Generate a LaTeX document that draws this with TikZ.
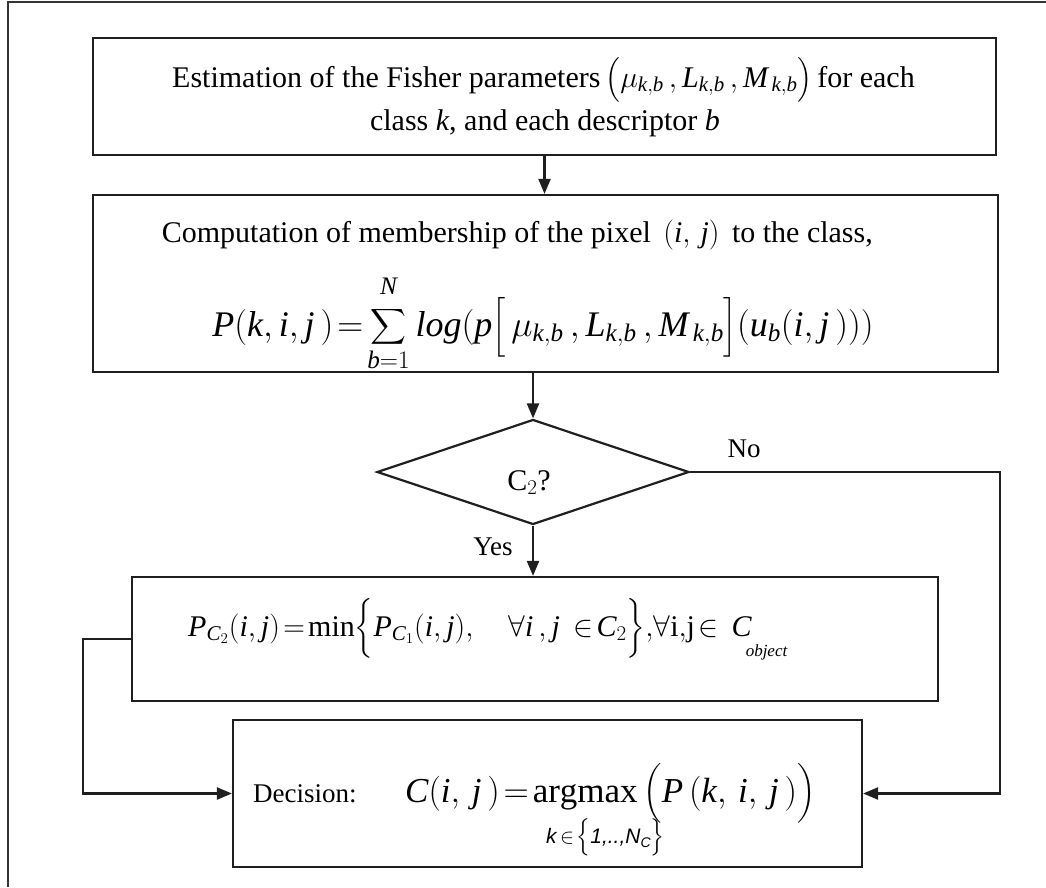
\RequirePackage{fix-cm}
\documentclass[tikz,border=0pt]{standalone}
\usepackage{amsmath}
\usepackage{fontspec}
\setmainfont{Liberation Serif}
\newfontfamily\sff{Liberation Sans}
\usetikzlibrary{shapes.geometric,arrows.meta}
\newcommand\mi[1]{\mathit{#1}}
\begin{document}
\begin{tikzpicture}[x=1pt,y=-1pt,
  box/.style={draw=black!88, line width=2.2pt, inner sep=0pt},
  frm/.style={draw=black!80, line width=2pt},
  conn/.style={draw=black!88, line width=2.2pt},
  arr/.style={conn, -{Triangle[length=15pt,width=12pt]}},
  txt/.style={inner sep=0pt, font=\fontsize{30}{36}\selectfont},
  lbl/.style={inner sep=0pt, font=\fontsize{27}{32}\selectfont}]
\useasboundingbox (0,0) rectangle (1046,887);
% outer frame (cropped)
\draw[frm] (8,887) -- (8,2) -- (1046,2);
% boxes
\node[box, minimum width=903pt, minimum height=117pt] (b1) at (544.5,96.5) {};
\node[box, minimum width=905pt, minimum height=177pt] (b2) at (545.5,283.5) {};
\node[box, diamond, aspect=2.97, minimum width=312pt, minimum height=105pt] (d) at (533,472) {};
\node[box, minimum width=806pt, minimum height=124pt] (pb) at (535,639) {};
\node[box, minimum width=629pt, minimum height=147pt] (db) at (547.5,793.5) {};
% texts
\node[txt, anchor=base west] (t1a) at (172,87) {Estimation of the Fisher parameters\hspace{5pt}$\bigl(\mu_{\mi{k,b}}\,,\mi{L}_{\mi{k,b}}\,,\mi{M}_{\,\mi{k,b}}\bigr)$\hspace{5pt}for each};
\node[txt, anchor=base] (t1b) at (545,130) {class \textit{k}, and each descriptor \textit{b}};
\node[txt, anchor=base east] (t2a) at (873,242) {Computation of membership of the pixel $\,(\mi{i},\,\mi{j})\,$ to the class,};
\node[inner sep=0pt, anchor=base, font=\fontsize{36}{44}\selectfont] (t2b) at (543,336)
  {$\displaystyle \mi{P}(\mi{k},\mi{i},\mi{j}\,)\!=\!\sum_{\mi{b}=1}^{\raisebox{8pt}{$\scriptstyle\mi{N}$}}\mi{log}(\mi{p}\Bigl[\,\mu_{\mi{k,b}}\,,\mi{L}_{\mi{k,b}}\,,\mi{M}_{\,\mi{k,b}}\Bigr](\mi{u}_{\mi{b}}(\mi{i},\mi{j}\,)))$};
\node[inner sep=0pt, font=\fontsize{30}{36}\selectfont, anchor=base] (tc) at (529,490) {C$_2$?};
\node[lbl, anchor=base] (tno) at (744,457) {No};
\node[lbl, anchor=base] (tyes) at (493,555) {Yes};
\node[inner sep=0pt, anchor=base west, font=\fontsize{30}{36}\selectfont] (tp) at (188,636)
  {$\mi{P}_{\mi{C}_2}(\mi{i},\mi{j})\!=\!\min\Bigl\{\mi{P}_{\mi{C}_1}(\mi{i},\mi{j}),\quad \forall \mi{i}\,,\mi{j}\,\in\!\mi{C}_2\Bigr\},\!\forall\mathrm{i},\!\mathrm{j}\!\in\, \mi{C}\rlap{\hspace{-6pt}\raisebox{-20pt}{\fontsize{17}{20}\selectfont\itshape object}}$};
\node[inner sep=0pt, anchor=base west, font=\fontsize{27}{32}\selectfont] (tdec) at (253,802) {Decision:};
\node[inner sep=0pt, anchor=base west, font=\fontsize{35}{42}\selectfont] (tdf) at (405,802)
  {$\displaystyle \mi{C}(\mi{i},\,\mi{j}\,)\!=\!\mathrm{argmax}\,\Bigl(\mi{P}\,(\mi{k},\,\mi{i},\,\mi{j}\,)\Bigr)$};
\node[inner sep=0pt, anchor=base west, font=\fontsize{21}{24}\selectfont\sff\itshape] (tsub) at (546,843)
  {k\,$\in\!\Bigl\{$1,..,N\raisebox{-4pt}{\fontsize{14}{16}\selectfont C}$\Bigr\}$};
% connectors
\coordinate (rc) at (1000,472);
\coordinate (lc) at (83,639);
\draw[arr] (b1.south) -- (b1.south |- b2.north);
\draw[arr] (d.north |- b2.south) -- (d.north);
\draw[arr] (d.south) -- (d.south |- pb.north);
\draw[arr] (d.east) -- (rc) |- (db.east);
\draw[arr] (pb.west) -- (lc) |- (db.west);
\end{tikzpicture}
\end{document}
